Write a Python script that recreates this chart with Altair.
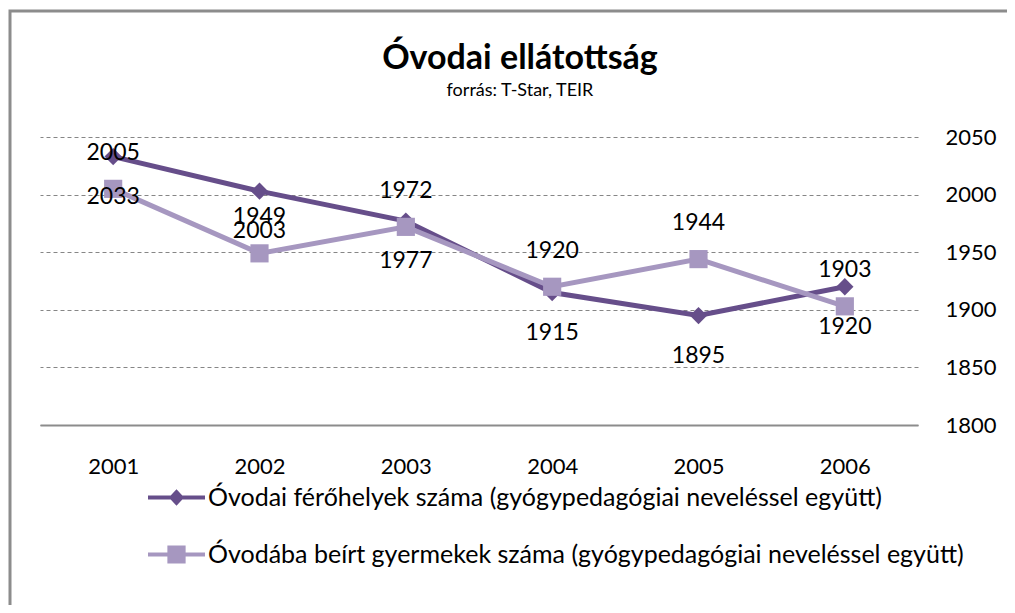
import altair as alt
import pandas as pd

# ---- data ----
years = ["2001", "2002", "2003", "2004", "2005", "2006"]
ferohely = [2033, 2003, 1977, 1915, 1895, 1920]   # dark, diamonds
beirt = [2005, 1949, 1972, 1920, 1944, 1903]      # light, squares
s1 = "Óvodai férőhelyek száma (gyógypedagógiai neveléssel együtt)"
s2 = "Óvodába beírt gyermekek száma (gyógypedagógiai neveléssel együtt)"
series = [s1, s2]
y_ticks = [1800, 1850, 1900, 1950, 2000, 2050]

colors = ["#664E8A", "#A697C0"]
FONT = "Lato"
FS = 22

rows = []
for name, vals in zip(series, [ferohely, beirt]):
    for yr, v in zip(years, vals):
        rows.append({"year": yr, "value": v, "series": name})
df = pd.DataFrame(rows)

x_enc = alt.X(
    "year:N",
    scale=alt.Scale(type="point", padding=0.5),
    axis=alt.Axis(
        title=None, orient="bottom", ticks=False, domain=True,
        domainColor="#8C8C8C", domainWidth=2, grid=False,
        labelFontSize=FS, labelFont=FONT, labelColor="#000000",
        labelPadding=31, labelAngle=0,
    ),
)
y_enc = alt.Y(
    "value:Q",
    scale=alt.Scale(domain=[1800, 2050], nice=False, zero=False),
    axis=alt.Axis(
        title=None, orient="right", values=y_ticks, ticks=False, domain=False,
        grid=True, gridDash=[4, 3], gridColor="#868686", gridWidth=1,
        labelFontSize=FS, labelFont=FONT, labelColor="#000000",
        labelPadding=27, labelAlign="left", format="d",
    ),
)

# legend symbols: line with marker (custom paths)
path_diamond = "M-1,-0.07H1V0.07H-1Z M0,-0.29L0.27,0L0,0.29L-0.27,0Z"
path_square = "M-1,-0.07H1V0.07H-1Z M-0.32,-0.32H0.32V0.32H-0.32Z"

leg = alt.Legend(
    title=None, orient="none", legendX=108, legendY=332,
    direction="vertical", labelFontSize=25, labelFont=FONT,
    labelColor="#000000", symbolSize=3249, symbolStrokeWidth=0,
    labelOffset=3, rowPadding=15, labelLimit=900, symbolOpacity=1,
)

legend_layer = alt.Chart(df).transform_filter("datum.value < 0").mark_point(
    filled=True, opacity=1
).encode(
    x=x_enc,
    y=y_enc,
    color=alt.Color("series:N", scale=alt.Scale(domain=series, range=colors), legend=leg),
    shape=alt.Shape(
        "series:N",
        scale=alt.Scale(domain=series, range=[path_diamond, path_square]),
        legend=leg,
    ),
)

layers = []
for name, col, shp, size in [(s1, colors[0], "diamond", 300), (s2, colors[1], "square", 330)]:
    sub = alt.Chart(df).transform_filter(alt.datum.series == name).encode(x=x_enc, y=y_enc)
    layers.append(sub.mark_line(strokeWidth=5, color=col))
    layers.append(sub.mark_point(shape=shp, filled=True, size=size, opacity=1, color=col))

labels = []
for name, dy in [(s1, 40), (s2, -36)]:
    sub = alt.Chart(df).transform_filter(alt.datum.series == name)
    labels.append(
        sub.mark_text(dy=dy, fontSize=23, font=FONT, color="#000000").encode(
            x=x_enc, y=y_enc, text=alt.Text("value:Q", format="d")
        )
    )

frame = alt.Chart(pd.DataFrame({"k": [0]})).mark_rect(
    fill="transparent", stroke="#8C8C8C", strokeWidth=3
).encode(
    x=alt.value(-30), x2=alt.value(1100), y=alt.value(-126), y2=alt.value(700)
)

chart = alt.layer(frame, *layers, *labels, legend_layer).properties(
    width=878,
    height=288,
    padding={"left": 32, "top": 129, "right": 89, "bottom": 180},
    autosize=alt.AutoSizeParams(type="none"),
    title=alt.TitleParams(
        text="Óvodai ellátottság",
        subtitle="forrás: T-Star, TEIR",
        anchor="middle",
        frame="group",
        fontSize=34,
        fontWeight="bold",
        font=FONT,
        color="#000000",
        subtitleFontSize=18,
        subtitleFont=FONT,
        subtitleColor="#000000",
        subtitlePadding=6,
        offset=-90,
        dx=41,
    ),
).configure_view(stroke=None)

chart.save("out.html", embed_options={"renderer": "svg", "actions": False})
